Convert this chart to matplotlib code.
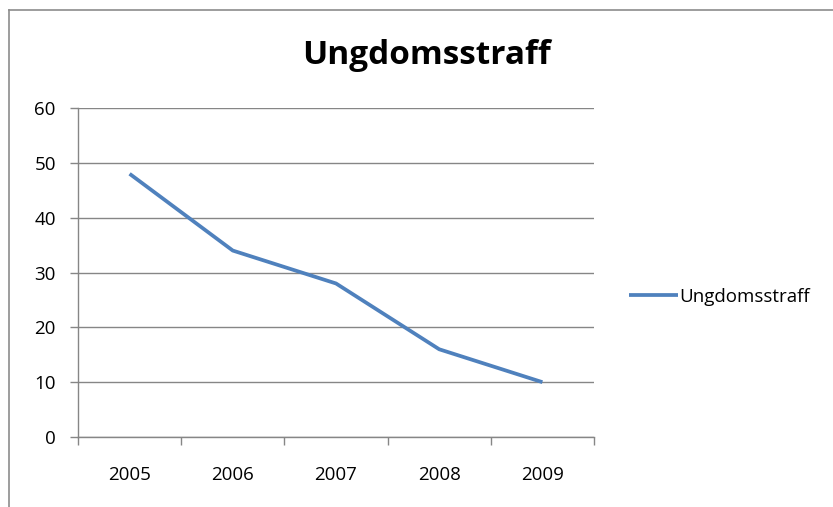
import matplotlib.pyplot as plt
from matplotlib.lines import Line2D

years = ["2005", "2006", "2007", "2008", "2009"]
values = [48, 34, 28, 16, 10]
series_name = "Ungdomsstraff"
y_ticks = [0, 10, 20, 30, 40, 50, 60]

GRID = "#868686"
BLUE = "#4F81BD"
plt.rcParams["font.family"] = ["Open Sans", "DejaVu Sans"]

W, H = 833, 507
fig = plt.figure(figsize=(W / 100, H / 100), dpi=100)

# chart frame (left and top edges visible, rest cropped)
fig.add_artist(Line2D([9 / W, 9 / W], [0, 1 - 10 / H], color="#8c8c8c", lw=1.2))
fig.add_artist(Line2D([9 / W, 1], [1 - 10 / H, 1 - 10 / H], color="#8c8c8c", lw=1.2))

ax = fig.add_axes([78 / W, (H - 437) / H, (594 - 78) / W, (437 - 108) / H])
x = [i + 0.5 for i in range(len(years))]
ax.plot(x, values, color=BLUE, lw=2.7, solid_capstyle="butt", label=series_name)

ax.set_xlim(0, len(years))
ax.set_ylim(0, 60)
ax.set_yticks(y_ticks)
ax.yaxis.grid(True, color=GRID, lw=1)
ax.set_axisbelow(True)

ax.set_xticks(range(len(years) + 1))
ax.set_xticklabels([])
ax.set_xticks(x, minor=True)
ax.set_xticklabels(years, minor=True)
ax.tick_params(axis="x", which="major", length=6, width=1, color=GRID)
ax.tick_params(axis="x", which="minor", length=0, pad=21, labelsize=13.5)
ax.tick_params(axis="y", length=6, width=1, color=GRID, pad=10, labelsize=13.5)

for s in ["top", "right"]:
    ax.spines[s].set_visible(False)
for s in ["left", "bottom"]:
    ax.spines[s].set_color(GRID)
    ax.spines[s].set_linewidth(1)

fig.text(426 / W, 1 - 55 / H, series_name, ha="center", va="center",
         fontsize=24, fontweight="bold")

ax.legend(loc="center left", bbox_to_anchor=(612 / W, 1 - 297 / H),
          bbox_transform=fig.transFigure, frameon=False, fontsize=13.5,
          handlelength=2.6, handletextpad=0.1)

fig.savefig("out.png", dpi=100)
